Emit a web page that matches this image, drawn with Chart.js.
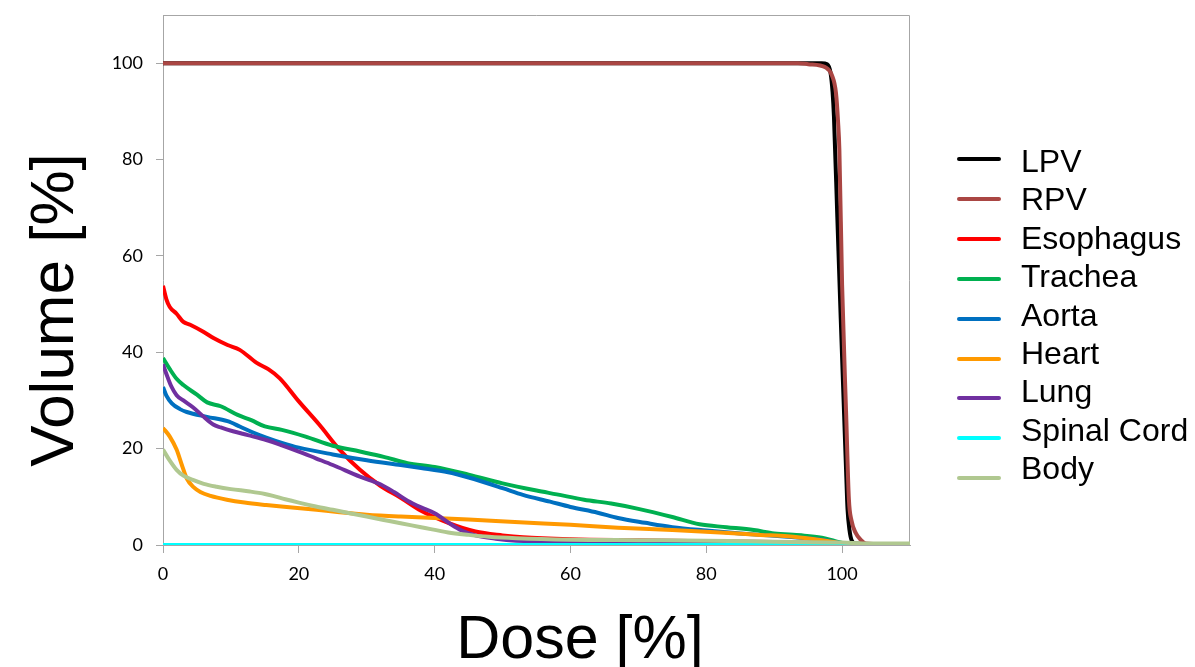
<!DOCTYPE html>
<html>
<head>
<meta charset="utf-8">
<script src="https://cdn.jsdelivr.net/npm/chart.js@4.4.1/dist/chart.umd.min.js"></script>
<style>
  html, body { margin: 0; padding: 0; background: #fff; }
  #wrap { position: relative; width: 1195px; height: 667px; }
  #legend { position: absolute; left: 0; top: 0; }
  .lg-line { position: absolute; left: 957px; width: 44px; height: 4px; border-radius: 2px; }
  .lg-text { position: absolute; left: 1021px; font: 32px "Liberation Sans", Arial, sans-serif; line-height: 34px; color: #000; white-space: nowrap; }
</style>
</head>
<body>
<div id="wrap">
  <canvas id="dvh" width="1195" height="667"></canvas>
  <div id="legend"></div>
</div>
<script>
// dose-volume histogram, values
const xTitle = 'Dose [%]';
const yTitle = 'Volume [%]';
const tickStep = 20;

const seriesNames = ['LPV', 'RPV', 'Esophagus', 'Trachea', 'Aorta', 'Heart', 'Lung', 'Spinal Cord', 'Body'];
const seriesColors = ['#000000', '#aa4643', '#ff0000', '#00b050', '#0070c0', '#ff9900', '#7030a0', '#00ffff', '#b0c890'];

const lpvDose = [0, 97, 97.8, 98.3, 98.6, 98.8, 99.3, 99.8, 100.3, 100.6, 100.8, 101.1, 101.4, 102, 110];
const lpvVol  = [100, 100, 99.8, 98, 94, 89, 68, 47, 27, 15, 7.5, 3, 1, 0.3, 0];

const rpvDose = [0, 93.5, 95, 97.6, 98.5, 99.1, 99.4, 99.6, 100, 100.6, 101, 101.4, 102, 102.8, 103.5, 110];
const rpvVol  = [100, 100, 99.8, 99.1, 97.5, 93.8, 88, 82, 54, 27, 9.5, 5, 2.5, 1, 0.3, 0];

const esoDose = [0, 0.5, 1, 2, 3, 4, 6, 7.5, 9.5, 11.3, 13.8, 15.5, 17.2, 20, 23, 26, 29, 32, 35, 38, 42, 46, 50, 53, 60, 70, 80, 90, 98, 102, 110];
const esoVol  = [53.8, 51, 49.4, 48, 46.3, 45.7, 44.2, 42.9, 41.5, 40.5, 37.8, 36.5, 34.6, 29.8, 25, 19.8, 15.6, 12.3, 9.8, 7.1, 4.6, 2.8, 2, 1.6, 1.2, 1, 0.8, 0.6, 0.4, 0.1, 0];

const tracheaDose = [0, 1, 2, 3, 5, 6.5, 8.5, 11, 13, 15, 17.5, 21, 25, 29, 32.5, 36, 40, 45, 50, 55, 58, 62, 66, 70, 75, 79, 83, 87, 90, 94, 97, 99, 101, 110];
const tracheaVol  = [38.8, 36.5, 34.5, 33.2, 31.2, 29.6, 28.8, 27, 25.9, 24.6, 23.9, 22.5, 20.6, 19.4, 18.3, 17, 16.2, 14.6, 12.8, 11.3, 10.5, 9.4, 8.6, 7.5, 5.8, 4.3, 3.7, 3.1, 2.4, 2, 1.5, 0.8, 0.2, 0];

const aortaDose = [0, 0.5, 1.3, 2.5, 3.5, 6.5, 9.5, 11.3, 13, 15.2, 17.5, 20, 25, 30, 35, 38, 42, 45, 50, 53, 57, 60, 64, 67, 71, 75, 80, 85, 92, 97, 99, 101, 110];
const aortaVol  = [32.8, 31, 29.4, 28.2, 27.6, 26.6, 25.7, 24.6, 23.5, 22.3, 21.2, 20.2, 18.8, 17.6, 16.6, 16, 15.1, 14, 11.8, 10.4, 9, 7.9, 6.7, 5.6, 4.6, 3.7, 3, 2.4, 1.7, 1.1, 0.6, 0.2, 0];

const heartDose = [0, 1, 2, 2.8, 3.5, 4.5, 5.5, 7, 9.4, 12, 15.2, 19, 22.6, 26, 30, 35, 40, 45, 52.5, 60, 67, 75, 82, 88, 92, 96, 98.5, 100, 102, 110];
const heartVol  = [24.3, 22.5, 19.8, 16.5, 13.8, 12, 11, 10.2, 9.4, 8.8, 8.3, 7.8, 7.3, 6.8, 6.3, 5.9, 5.6, 5.3, 4.7, 4.2, 3.6, 3.1, 2.6, 2.1, 1.8, 1.2, 0.7, 0.3, 0.1, 0];

const lungDose = [0, 0.5, 1.2, 2, 3, 4.4, 6, 7.4, 8.5, 10.3, 12.5, 15.2, 17.5, 20, 22.5, 25, 29, 32, 34, 36, 38, 40, 42.5, 44, 46, 49, 52, 60, 70, 80, 90, 100, 103, 110];
const lungVol  = [37.5, 35.5, 33, 31.1, 30, 28.6, 26.6, 25, 24.4, 23.6, 22.8, 21.8, 20.7, 19.4, 18, 16.6, 14.2, 12.6, 11, 9.2, 7.8, 6.6, 4.2, 3, 2, 1.3, 0.9, 0.7, 0.6, 0.5, 0.4, 0.3, 0.1, 0];

const cordDose = [0, 110];
const cordVol  = [0, 0];

const bodyDose = [0, 1, 2, 3, 4.4, 6, 7.9, 10, 12.8, 15, 16.2, 18, 20, 22.5, 25, 27.5, 30, 32.5, 35, 38, 42, 45, 48, 52, 60, 70, 80, 90, 100, 104, 110];
const bodyVol  = [19.8, 17.5, 15.6, 14.4, 13.5, 12.7, 12.1, 11.6, 11.1, 10.6, 10.2, 9.5, 8.8, 8, 7.3, 6.6, 5.9, 5.2, 4.5, 3.7, 2.6, 2.1, 1.7, 1.4, 1.1, 1, 0.9, 0.7, 0.5, 0.3, 0.3];

const seriesDose = [lpvDose, rpvDose, esoDose, tracheaDose, aortaDose, heartDose, lungDose, cordDose, bodyDose];
const seriesVol  = [lpvVol, rpvVol, esoVol, tracheaVol, aortaVol, heartVol, lungVol, cordVol, bodyVol];

const axisGray = '#a6a6a6';

const datasets = seriesNames.map((name, i) => ({
  label: name,
  data: seriesDose[i].map((d, j) => ({ x: d, y: seriesVol[i][j] })),
  borderColor: seriesColors[i],
  backgroundColor: seriesColors[i],
  borderWidth: 4,
  pointRadius: 0,
  cubicInterpolationMode: 'monotone',
  order: seriesNames.length - i // later series on top, like the original
}));

// plot frame (top/right edges) and the big axis titles
const frame = {
  id: 'frame',
  beforeDatasetsDraw(chart) {
    const { ctx, chartArea: a } = chart;
    ctx.save();
    ctx.strokeStyle = axisGray;
    ctx.lineWidth = 1;
    ctx.beginPath();
    ctx.moveTo(a.left, a.top + 0.5);
    ctx.lineTo(a.right - 0.5, a.top + 0.5);
    ctx.lineTo(a.right - 0.5, a.bottom);
    ctx.stroke();
    ctx.restore();
  },
  afterDraw(chart) {
    const ctx = chart.ctx;
    ctx.save();
    ctx.fillStyle = '#000';
    ctx.textAlign = 'center';
    ctx.textBaseline = 'alphabetic';
    ctx.font = '61px "Liberation Sans", Arial, sans-serif';
    ctx.fillText(xTitle, 580, 658);
    ctx.translate(73, 310);
    ctx.rotate(-Math.PI / 2);
    ctx.font = '62px "Liberation Sans", Arial, sans-serif';
    ctx.fillText(yTitle, 0, 0);
    ctx.restore();
  }
};

const keepSteps = s => { s.ticks = s.ticks.filter(t => t.value % tickStep === 0); };
const tickFont = { family: 'Lato, "Open Sans", sans-serif', size: 18 };

new Chart(document.getElementById('dvh'), {
  type: 'line',
  data: { datasets },
  options: {
    responsive: false,
    animation: false,
    layout: { padding: { top: 15, right: 285, left: 0, bottom: 0 } },
    plugins: { legend: { display: false }, tooltip: { enabled: false } },
    scales: {
      x: {
        type: 'linear',
        min: 0,
        max: 110,
        afterBuildTicks: keepSteps,
        afterFit: s => { s.height = 122; s.paddingLeft = 0; s.paddingRight = 0; },
        ticks: { stepSize: tickStep, color: '#000', font: tickFont, padding: 10, maxRotation: 0 },
        grid: { drawOnChartArea: false, tickLength: 8, color: axisGray },
        border: { color: axisGray }
      },
      y: {
        type: 'linear',
        min: 0,
        max: 110,
        afterBuildTicks: keepSteps,
        afterFit: s => { s.width = 163; s.paddingTop = 0; s.paddingBottom = 0; },
        ticks: { stepSize: tickStep, color: '#000', font: tickFont, padding: 13 },
        grid: { drawOnChartArea: false, tickLength: 7, color: axisGray },
        border: { color: axisGray }
      }
    }
  },
  plugins: [frame]
});

// legend as plain text beside the plot
const legend = document.getElementById('legend');
seriesNames.forEach((name, i) => {
  const line = document.createElement('div');
  line.className = 'lg-line';
  line.style.background = seriesColors[i];
  line.style.top = (157 + i * 39.9) + 'px';
  legend.appendChild(line);
  const text = document.createElement('div');
  text.className = 'lg-text';
  text.textContent = name;
  text.style.top = (161 + i * 38.4 - 17) + 'px';
  legend.appendChild(text);
});
</script>
</body>
</html>
